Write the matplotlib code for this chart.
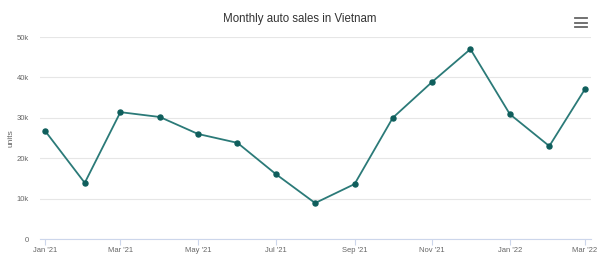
import matplotlib
matplotlib.use('Agg')
import matplotlib.pyplot as plt
import matplotlib.dates as mdates
import pandas as pd

months = pd.date_range('2021-01-01', '2022-03-01', freq='MS')
sales = [26700, 13900, 31400, 30200, 26000, 23800, 16100, 8900,
         13600, 30000, 38900, 47000, 30900, 23000, 37100]
y_ticks = [0, 10000, 20000, 30000, 40000, 50000]
y_labels = ['0', '10k', '20k', '30k', '40k', '50k']

plt.rcParams['font.family'] = ['Liberation Sans', 'DejaVu Sans']
fig = plt.figure(figsize=(6, 2.57), dpi=100)
ax = fig.add_axes([0.067, 0.07, 0.918, 0.786])

ax.plot(months, sales, color='#2b7a78', linewidth=1.3, zorder=3)
ax.scatter(months, sales, color='#0f5e5c', s=13, zorder=4)

ax.set_ylim(0, 50000)
ax.set_yticks(y_ticks)
ax.set_yticklabels(y_labels)
ax.set_xlim(pd.Timestamp('2020-12-28'), pd.Timestamp('2022-03-05 18:00'))
ax.xaxis.set_major_locator(mdates.MonthLocator(bymonth=[1, 3, 5, 7, 9, 11]))
ax.xaxis.set_major_formatter(mdates.DateFormatter("%b '%y"))

ax.grid(axis='y', color='#e6e6e6', linewidth=0.8)
ax.set_axisbelow(True)
for s in ['top', 'right', 'left']:
    ax.spines[s].set_visible(False)
ax.spines['bottom'].set_color('#ccd6eb')
ax.tick_params(axis='y', length=0, labelsize=5.5, colors='#666666', pad=8)
ax.tick_params(axis='x', length=4, color='#ccd6eb', labelsize=5.5, colors='#666666', pad=2)
ax.set_ylabel('units', fontsize=6, color='#666666', labelpad=2)

fig.text(0.5, 0.925, 'Monthly auto sales in Vietnam', ha='center', va='center',
         fontsize=8.3, color='#333333')
# menu icon
for dy in [0, 0.017, 0.034]:
    fig.add_artist(plt.Line2D([0.958, 0.978], [0.895 + dy, 0.895 + dy],
                              color='#666666', linewidth=1.3))

fig.savefig('out.png', dpi=100)
